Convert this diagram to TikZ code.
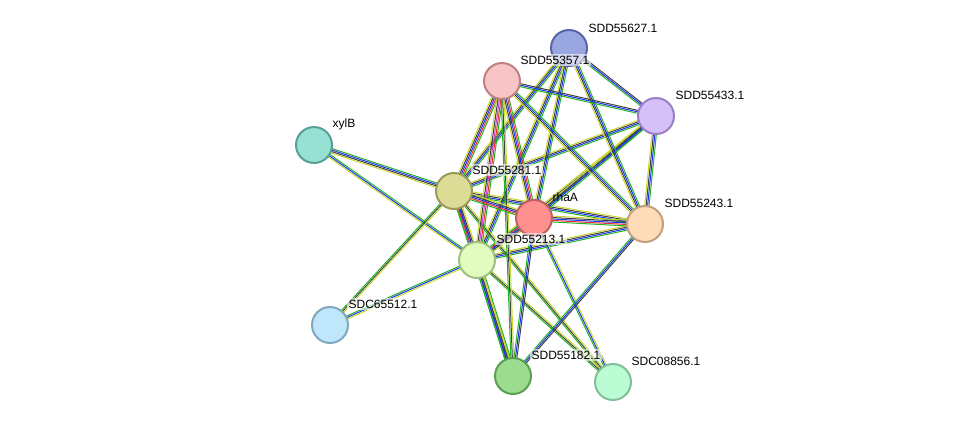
\documentclass[tikz,border=0pt]{standalone}
\usepackage{fontspec}
\setmainfont{Liberation Sans}
\usetikzlibrary{calc,backgrounds}
\definecolor{cgreen}{HTML}{22B422}
\definecolor{cblue}{HTML}{2030F0}
\definecolor{cblack}{HTML}{404040}
\definecolor{cyellow}{HTML}{C8D830}
\definecolor{cred}{HTML}{E83030}
\definecolor{cpink}{HTML}{D040D0}
\tikzset{
  prot/.style={circle, draw, line width=1.5pt, minimum size=27pt, inner sep=0pt},
  lbl/.style={anchor=west, font=\fontsize{9}{10}\selectfont, inner sep=1pt},
  ln/.style={line width=0.75pt},
}
% edge with parallel coloured lines
\newcommand{\edge}[3]{%
  \foreach \c [count=\i] in {#3}{%
    \pgfmathsetmacro{\o}{(\i-1)*1.1-0.5*1.1*(\fnum-1)}%
    \draw[ln,\c] ($(#1)!\o pt!90:(#2)$) -- ($(#2)!\o pt!-90:(#1)$);}}
\newcommand{\setn}[1]{\def\fnum{#1}}
\begin{document}
\begin{tikzpicture}[x=0.75pt,y=-0.75pt]
  \useasboundingbox (0,0) rectangle (975,428);
  \node[prot, fill={rgb,255:red,154;green,166;blue,224}, draw={rgb,255:red,90;green,100;blue,168}] (p627) at (569,48) {};
  \node[prot, fill={rgb,255:red,247;green,197;blue,197}, draw={rgb,255:red,192;green,128;blue,128}] (p357) at (502,81) {};
  \node[prot, fill={rgb,255:red,213;green,192;blue,248}, draw={rgb,255:red,154;green,128;blue,200}] (p433) at (656,116) {};
  \node[prot, fill={rgb,255:red,150;green,224;blue,212}, draw={rgb,255:red,90;green,160;blue,152}] (xylB) at (314,145) {};
  \node[prot, fill={rgb,255:red,220;green,220;blue,150}, draw={rgb,255:red,154;green,154;blue,90}] (p281) at (454,191) {};
  \node[prot, fill={rgb,255:red,255;green,144;blue,144}, draw={rgb,255:red,192;green,96;blue,96}] (rhaA) at (534,218) {};
  \node[prot, fill={rgb,255:red,254;green,220;blue,184}, draw={rgb,255:red,192;green,160;blue,128}] (p243) at (645,224) {};
  \node[prot, fill={rgb,255:red,226;green,252;blue,192}, draw={rgb,255:red,160;green,192;blue,128}] (p213) at (477,260) {};
  \node[prot, fill={rgb,255:red,192;green,230;blue,252}, draw={rgb,255:red,128;green,168;blue,192}] (c512) at (330,325) {};
  \node[prot, fill={rgb,255:red,156;green,220;blue,144}, draw={rgb,255:red,90;green,160;blue,80}] (p182) at (513,376) {};
  \node[prot, fill={rgb,255:red,188;green,252;blue,212}, draw={rgb,255:red,128;green,192;blue,152}] (c856) at (613,382) {};
  \begin{scope}[on background layer]
    \setn{4}
    \edge{p281}{xylB}{cgreen,cblue,cblack,cyellow}
    \edge{p281}{p627}{cgreen,cblue,cblack,cyellow}
    \edge{p281}{p433}{cgreen,cblue,cblack,cyellow}
    \edge{p281}{p243}{cgreen,cblue,cblack,cyellow}
    \edge{p213}{p627}{cgreen,cblue,cblack,cyellow}
    \edge{p213}{p433}{cgreen,cblue,cblack,cyellow}
    \edge{p213}{p243}{cgreen,cblue,cblack,cyellow}
    \edge{rhaA}{p627}{cgreen,cblue,cblack,cyellow}
    \edge{rhaA}{p433}{cgreen,cblue,cblack,cyellow}
    \edge{p243}{p627}{cgreen,cblue,cblack,cyellow}
    \edge{p243}{p357}{cgreen,cblue,cblack,cyellow}
    \edge{p243}{p433}{cgreen,cblue,cblack,cyellow}
    \edge{p281}{p182}{cgreen,cblue,cblack,cyellow}
    \setn{3}
    \edge{p213}{xylB}{cgreen,cblue,cyellow}
    \edge{p281}{c512}{cgreen,cblack,cyellow}
    \edge{p213}{c512}{cgreen,cblue,cyellow}
    \edge{p281}{c856}{cgreen,cblack,cyellow}
    \edge{p213}{c856}{cgreen,cblack,cyellow}
    \edge{rhaA}{c856}{cgreen,cblue,cyellow}
    \edge{rhaA}{p182}{cgreen,cblue,cblack}
    \edge{p243}{p182}{cgreen,cblue,cblack}
    \edge{p357}{p433}{cgreen,cblue,cblack}
    \edge{p627}{p433}{cgreen,cblue,cblack}
    \edge{p357}{p182}{cgreen,cblack,cyellow}
    \setn{5}
    \edge{p281}{p357}{cgreen,cred,cblue,cblack,cyellow}
    \edge{p213}{p357}{cgreen,cred,cpink,cblack,cyellow}
    \edge{rhaA}{p357}{cgreen,cred,cblue,cblack,cyellow}
    \edge{p281}{rhaA}{cgreen,cred,cblue,cblack,cyellow}
    \edge{p281}{p213}{cgreen,cred,cblue,cblack,cyellow}
    \edge{rhaA}{p213}{cgreen,cred,cblue,cblack,cyellow}
    \edge{rhaA}{p243}{cgreen,cred,cblue,cblack,cyellow}
    \edge{p213}{p182}{cgreen,cblue,cblack,cyellow,cgreen}
  \end{scope}
  \node[lbl] at (587,28) {SDD55627.1};
  \node[lbl, fill=white, fill opacity=0.6, text opacity=1] at (519,60) {SDD55357.1};
  \node[lbl] at (674,95) {SDD55433.1};
  \node[lbl] at (331,124) {xylB};
  \node[lbl, fill=white, fill opacity=0.6, text opacity=1] at (471,170) {SDD55281.1};
  \node[lbl] at (551,197) {rhaA};
  \node[lbl] at (663,203) {SDD55243.1};
  \node[lbl, fill=white, fill opacity=0.6, text opacity=1] at (495,239) {SDD55213.1};
  \node[lbl, fill=white, fill opacity=0.6, text opacity=1] at (347,304) {SDC65512.1};
  \node[lbl, fill=white, fill opacity=0.6, text opacity=1] at (530,355) {SDD55182.1};
  \node[lbl] at (630,361) {SDC08856.1};
\end{tikzpicture}
\end{document}
